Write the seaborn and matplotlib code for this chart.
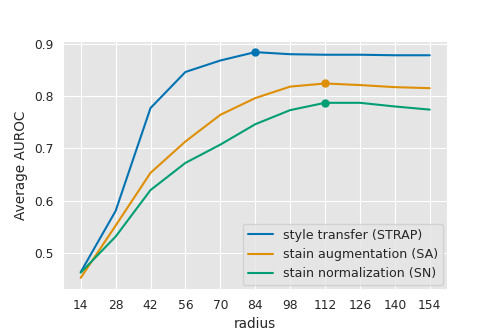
import pandas as pd
import matplotlib
matplotlib.use("Agg")
import matplotlib.pyplot as plt
import seaborn as sns

sns.set_style("darkgrid", {"axes.facecolor": "#E5E5E5", "grid.color": "white"})
plt.rcParams.update({
    "xtick.labelsize": 8.8,
    "ytick.labelsize": 8.8,
    "axes.labelsize": 9.8,
    "legend.fontsize": 9.1,
})

radius = [14, 28, 42, 56, 70, 84, 98, 112, 126, 140, 154]
strap = [0.463, 0.580, 0.777, 0.846, 0.868, 0.884, 0.880, 0.879, 0.879, 0.878, 0.878]
sa = [0.452, 0.552, 0.653, 0.713, 0.764, 0.796, 0.818, 0.824, 0.821, 0.817, 0.815]
sn = [0.462, 0.531, 0.620, 0.672, 0.707, 0.746, 0.773, 0.787, 0.787, 0.780, 0.774]
names = ["style transfer (STRAP)", "stain augmentation (SA)", "stain normalization (SN)"]

df = pd.DataFrame({
    "radius": radius * 3,
    "auroc": strap + sa + sn,
    "method": [names[0]] * 11 + [names[1]] * 11 + [names[2]] * 11,
})

colors = sns.color_palette("colorblind", 3)

fig, ax = plt.subplots(figsize=(4.98, 3.32), dpi=100)
sns.lineplot(data=df, x="radius", y="auroc", hue="method", palette=colors, ax=ax, linewidth=1.5)

# mark the best value of each method
for i, vals in enumerate([strap, sa, sn]):
    best = max(range(len(vals)), key=lambda k: vals[k])
    ax.plot(radius[best], vals[best], "o", color=colors[i], markersize=5)

ax.set_xticks(radius)
ax.set_yticks([0.5, 0.6, 0.7, 0.8, 0.9])
ax.set_xlabel("radius")
ax.set_ylabel("Average AUROC")
ax.legend(title=None, loc="lower right", borderaxespad=0.3)
plt.subplots_adjust(left=0.127, right=0.898, top=0.877, bottom=0.129)
plt.savefig("out.png")
